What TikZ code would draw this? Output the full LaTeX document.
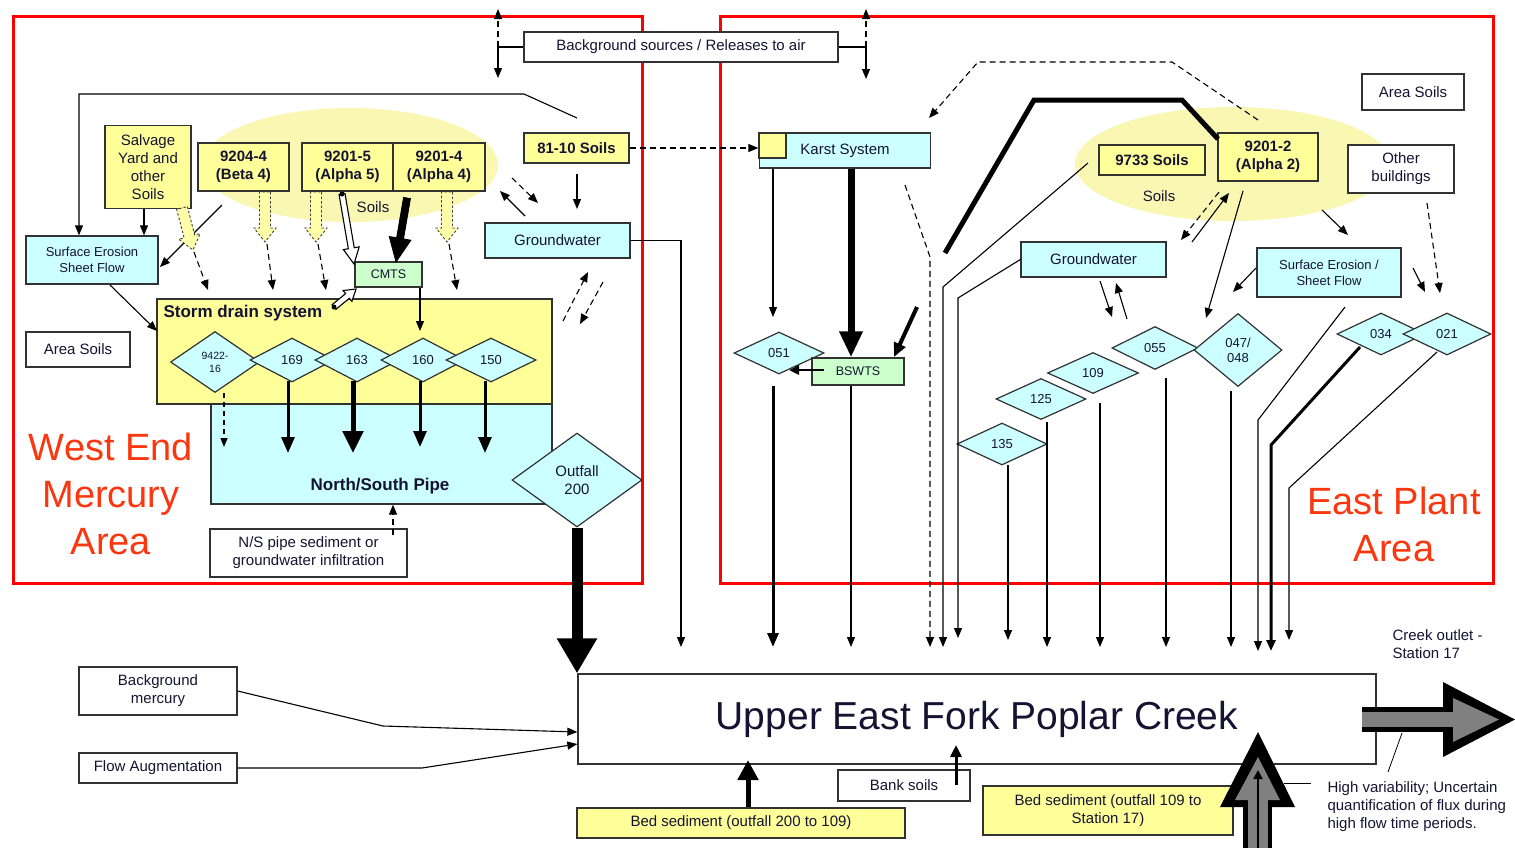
\documentclass[tikz,border=0pt]{standalone}
\usepackage{fontspec}
\setmainfont{Liberation Sans}
\usetikzlibrary{arrows.meta,shapes.geometric,calc}
\definecolor{cyb}{RGB}{204,255,255}
\definecolor{ylb}{RGB}{255,255,153}
\definecolor{grb}{RGB}{204,255,204}
\definecolor{ell}{RGB}{250,247,178}
\definecolor{hat}{RGB}{255,255,170}
\definecolor{txt}{RGB}{20,20,50}
\definecolor{redt}{RGB}{250,55,15}
\definecolor{bord}{RGB}{50,50,50}
\definecolor{arrg}{RGB}{128,128,128}
\newcommand\fsA{\fontsize{15}{18}\selectfont}
\newcommand\fsB{\fontsize{13}{16}\selectfont}
\newcommand\fsC{\fontsize{12.5}{14}\selectfont}
\newcommand\fsD{\fontsize{13}{15}\selectfont}
\newcommand\fsE{\fontsize{17}{20}\selectfont\bfseries}
\newcommand\fsF{\fontsize{10.5}{13}\selectfont}
\newcommand\fsBig{\fontsize{38}{47}\selectfont}
\newcommand\fsCreek{\fontsize{39}{47}\selectfont}
\newcommand\fatarrow[6]{%
  \coordinate (fahd) at ($(#3)!#6!(#2)$);
  \draw[#1] ($(#2)!#4!90:(#3)$) -- ($(fahd)!#4!90:(#3)$) -- ($(fahd)!#5!90:(#3)$) -- (#3) -- ($(fahd)!#5!-90:(#3)$) -- ($(fahd)!#4!-90:(#3)$) -- ($(#2)!#4!-90:(#3)$) -- cycle;}
\tikzset{
  sz/.style 2 args={minimum width=#1pt, minimum height=#2pt},
  box/.style={draw=bord, line width=1.3pt, inner sep=0pt, align=center, font=\fsA, text=txt},
  cbox/.style={box, fill=cyb},
  ybox/.style={box, fill=ylb},
  gbox/.style={box, fill=grb},
  wbox/.style={box, fill=white},
  dia/.style={diamond, draw=bord, line width=1.2pt, fill=cyb, inner sep=0pt, align=center, font=\fsD, text=txt},
  ln/.style={line width=1.1pt, draw=black},
  ar/.style={ln, -{Triangle[length=10pt,width=8pt]}},
  dar/.style={ar, dash pattern=on 6pt off 4pt},
  hatch/.style={draw=black!75, line width=0.9pt, dash pattern=on 2.5pt off 2pt, fill=hat},
  hollow/.style={draw=black, line width=1.1pt, fill=white},
  solidfat/.style={draw=black, line width=0.8pt, fill=black},
  bigtxt/.style={text=redt, font=\fsBig, align=center},
  plain/.style={font=\fsA, text=txt}
}
\begin{document}
\begin{tikzpicture}[x=1pt,y=-1pt]
\useasboundingbox (0,0) rectangle (1515,847);
\fill[white] (0,0) rectangle (1515,847);
% soil ellipses
\fill[ell] (350,165) ellipse [x radius=148pt, y radius=57pt];
\fill[ell] (1233,164) ellipse [x radius=158pt, y radius=57pt];
% red frames
\draw[red, line width=3pt] (13,16) rectangle (642,583);
\draw[red, line width=3pt] (720,16) rectangle (1493,583);

% ---------- West End nodes
\node[wbox, sz={314}{30}] (bgs) at (681,47) {Background sources / Releases to air};
\node[ybox, sz={86}{83}] (salv) at (148,167) {Salvage\\Yard and\\other\\Soils};
\node[ybox, sz={91}{48}, font=\fsA\bfseries] (beta4) at (243.5,167) {9204-4\\(Beta 4)};
\node[ybox, sz={91}{48}, font=\fsA\bfseries] (alpha5) at (347.5,167) {9201-5\\(Alpha 5)};
\node[ybox, sz={92}{48}, font=\fsA\bfseries] (alpha4) at (439,167) {9201-4\\(Alpha 4)};
\node[ybox, sz={105}{30}, font=\fsA\bfseries] (s8110) at (576.5,148) {81-10 Soils};
\node[cbox, sz={145}{35}] (gwl) at (557.5,240.5) {Groundwater};
\node[cbox, sz={132}{48}, font=\fsB] (sefl) at (92,260) {Surface Erosion\\Sheet Flow};
\node[gbox, sz={67}{25}, font=\fsC] (cmts) at (388.5,274.5) {CMTS};
\node[cbox, sz={341}{100}] (nspipe) at (381.5,454) {};
\node[ybox, sz={395}{105}] (storm) at (354.5,351.5) {};
\node[anchor=west, font=\fsE, text=txt] (stormlbl) at (160,313) {Storm drain system};
\node[font=\fsE, text=txt] (pipelbl) at (380,486) {North/South Pipe};
\node[wbox, sz={104}{35}] (areasl) at (78,349.5) {Area Soils};
\node[wbox, sz={197}{48}] (nssed) at (308.5,553) {N/S pipe sediment or\\groundwater infiltration};
\node[dia, sz={130}{94}, font=\fsA] (out200) at (577,480) {Outfall\\200};
\node[dia, sz={89}{61}, font=\fsF] (d9422) at (215,362) {9422-\\16};
\node[dia, sz={84}{44}] (d169) at (292,360) {169};
\node[dia, sz={84}{44}] (d163) at (357,360) {163};
\node[dia, sz={84}{44}] (d160) at (423,360) {160};
\node[dia, sz={90}{44}] (d150) at (491,360) {150};
\node[plain] (soilsl) at (373,207) {Soils};
\node[bigtxt] (westlbl) at (111,494) {West End\\Mercury\\Area};

% ---------- East Plant nodes
\node[cbox, sz={171}{35}] (karst) at (845,150.5) {Karst System};
\node[ybox, sz={27}{25}] (karstsq) at (772.5,145.5) {};
\node[ybox, sz={106}{30}, font=\fsA\bfseries] (s9733) at (1152,160) {9733 Soils};
\node[ybox, sz={100}{48}, font=\fsA\bfseries] (alpha2) at (1268,157) {9201-2\\(Alpha 2)};
\node[wbox, sz={102}{36}] (areasr) at (1413,92) {Area Soils};
\node[wbox, sz={106}{48}] (other) at (1401,169) {Other\\buildings};
\node[cbox, sz={145}{35}] (gwr) at (1093.5,259.5) {Groundwater};
\node[cbox, sz={144}{49}, font=\fsB] (sefr) at (1329,272.5) {Surface Erosion /\\Sheet Flow};
\node[dia, sz={90}{42}] (d051) at (779,353) {051};
\node[gbox, sz={92}{27}, font=\fsC] (bswts) at (858,371.5) {BSWTS};
\node[dia, sz={90}{42}] (d135) at (1002,444) {135};
\node[dia, sz={90}{41}] (d125) at (1041,399) {125};
\node[dia, sz={91}{41}] (d109) at (1093,373) {109};
\node[dia, sz={86}{43}] (d055) at (1155,348) {055};
\node[dia, sz={88}{73}] (d047) at (1238,350) {047/\\048};
\node[dia, sz={88}{42}] (d034) at (1381,334) {034};
\node[dia, sz={88}{42}] (d021) at (1447,334) {021};
\node[plain] (soilsr) at (1159,196) {Soils};
\node[bigtxt] (eastlbl) at (1394,524) {East Plant\\Area};

% ---------- bottom nodes
\node[wbox, sz={798}{90}, font=\fsCreek] (creek) at (977,719) {Upper East Fork Poplar Creek};
\node[wbox, sz={158}{48}] (bkm) at (158,691) {Background\\mercury};
\node[wbox, sz={158}{30}] (flow) at (158,768) {Flow Augmentation};
\node[ybox, sz={328}{30}] (bed1) at (741,823) {Bed sediment (outfall 200 to 109)};
\node[wbox, sz={132}{31}] (bank) at (904,785.5) {Bank soils};
\node[ybox, sz={250}{49}] (bed2) at (1108,810.5) {Bed sediment (outfall 109 to\\Station 17)};
\node[anchor=west, align=left, plain] (outlbl) at (1389,644) {Creek outlet -\\Station 17};
\node[anchor=west, align=left, plain] (hvlbl) at (1324,807) {High variability; Uncertain\\quantification of flux during\\high flow time periods.};

% ---------- connectors: top brackets
\coordinate (bjl) at (498,47);
\coordinate (bjr) at (866,47);
\draw[ln] (bgs.west) -- (bjl);
\draw[dar] (bjl) -- (498,9);
\draw[ar] (bjl) -- (498,78);
\draw[ln] (bgs.east) -- (bjr);
\draw[dar] (bjr) -- (866,9);
\draw[ar] (bjr) -- (866,79);

% ---------- West End connectors
\draw[ar] (577,118) -- (524,94) -- (79,94) -- (79,0 |- sefl.north);
\draw[ar] (144,0 |- salv.south) -- (144,0 |- sefl.north);
\draw[ar] (222,205) -- (160,267);
\draw[ar] (110,285) -- (157,331);
\fatarrow{hatch}{182,208}{193,250}{5.5pt}{11pt}{14pt}
\fatarrow{hatch}{265,192}{265,242}{5.5pt}{11pt}{14pt}
\fatarrow{hatch}{316,192}{316,242}{5.5pt}{11pt}{14pt}
\fatarrow{hatch}{447,192}{447,242}{5.5pt}{11pt}{14pt}
\draw[dar] (194,252) -- (208,290);
\draw[dar] (267,244) -- (273,290);
\draw[dar] (318,244) -- (326,290);
\draw[dar] (449,244) -- (457,290);
\fatarrow{hollow}{342,194}{354,264}{3pt}{8pt}{16pt}
\fill (342,194) circle (2.5pt);
\fatarrow{hollow}{334,307}{356,289}{3pt}{7pt}{11pt}
\fill (334,307) circle (2.5pt);
\fatarrow{solidfat}{407,198}{396,262}{3.5pt}{11pt}{24pt}
\draw[ar] (420,0 |- cmts.south) -- (420,331);
\draw[ar] (525,216) -- (500,191);
\draw[dar] (512,178) -- (538,203);
\draw[ar] (577,0 |- s8110.south) ++(0,10) -- (577,209);
\draw[dar] (563,321) -- (588,272);
\draw[dar] (603,282) -- (580,324);
\draw[ar] (gwl.east) -- (681,240.5) -- (681,647);
\draw[dar] (s8110.east) -- (s8110.east -| karstsq.west);
\draw[ln, dash pattern=on 5pt off 4pt, -{Triangle[length=9pt,width=7pt]}] (224,393) -- (224,447);
\draw[line width=3pt, -{Triangle[length=16pt,width=13pt]}] (288,381) -- (288,453);
\draw[line width=5pt, -{Triangle[length=22pt,width=20pt]}] (353,381) -- (353,453);
\draw[line width=3pt, -{Triangle[length=16pt,width=13pt]}] (420,381) -- (420,447);
\draw[line width=3pt, -{Triangle[length=16pt,width=13pt]}] (485,381) -- (485,453);
\draw[dar] (393,0 |- nssed.north) ++(0,7) -- (393,0 |- nspipe.south);
\draw[line width=11pt, -{Triangle[length=35pt,width=38pt]}] (out200.south) -- (577,0 |- creek.north);

% ---------- East Plant connectors
\draw[dar] (1258,120) -- (1172,62) -- (978,62) -- (929,118);
\draw[line width=5pt, line join=miter] (945,253) -- (1034,100) -- (1182,100) -- (1218,139);
\draw[ar] (773,0 |- karst.south) -- (773,317);
\draw[line width=7pt, -{Triangle[length=26pt,width=22pt]}] (851,0 |- karst.south) -- (851,0 |- bswts.north);
\draw[line width=4pt, -{Triangle[length=14pt,width=12pt]}] (917,307) -- (894,357);
\draw[line width=2.5pt, -{Triangle[length=10pt,width=9pt]}] (824,370) -- (789,370);
\draw[line width=3pt, -{Triangle[length=14pt,width=11pt]}] (773,386) -- (773,647);
\draw[ar] (851,0 |- bswts.south) -- (851,647);
\draw[dar] (905,185) -- (930,257) -- (930,647);
\draw[ar] (1088,163) -- (943,287) -- (943,647);
\draw[ar] (gwr.west) -- (958,298) -- (958,638);
\draw[ar] (1008,465) -- (1008,640);
\draw[ar] (1047,422) -- (1047,647);
\draw[ar] (1100,403) -- (1100,647);
\draw[ar] (1166,378) -- (1166,647);
\draw[ar] (1231,391) -- (1231,647);
\draw[ar] (1100,281) -- (1112,317);
\draw[ar] (1127,319) -- (1116,283);
\draw[dar] (1219,192) -- (1181,240);
\draw[ar] (1192,242) -- (1229,193);
\draw[ar] (1243,191) -- (1206,318);
\draw[ar] (1322,210) -- (1348,235);
\draw[ar] (1256,268) -- (1233,292);
\draw[dar] (1427,203) -- (1440,293);
\draw[ar] (1413,268) -- (1425,292);
\draw[ar] (1345,307) -- (1258,420) -- (1258,651);
\draw[line width=3pt, -{Triangle[length=11pt,width=9pt]}] (1360,347) -- (1271,445) -- (1271,651);
\draw[ar] (1437,352) -- (1289,488) -- (1289,640);

% ---------- bottom connectors
\draw[ar] (bkm.east) -- (383,726) -- (creek.west |- 0,732);
\draw[ar] (flow.east) -- (422,768) -- (creek.west |- 0,744);
\draw[line width=5pt, -{Triangle[length=20pt,width=20pt]}] (748,0 |- bed1.north) -- (748,760);
\draw[line width=3pt, -{Triangle[length=12pt,width=11pt]}] (956,785) -- (956,745);
% big up arrow (outer black, inner grey)
\fill[black] (1243,800) rectangle (1272,850);
\fill[black] (1220,807) -- (1258,732) -- (1295,807) -- cycle;
\fill[arrg] (1248,795) rectangle (1268,850);
\fill[arrg] (1235,800) -- (1258,757) -- (1280,800) -- cycle;
\draw[line width=2.5pt, -{Triangle[length=9pt,width=9pt]}] (1258,850) -- (1258,770);
% big right arrow (outer black, inner grey)
\fill[black] (1362,707) rectangle (1450,732);
\fill[black] (1443,682) -- (1515,719.5) -- (1443,757) -- cycle;
\fill[arrg] (1362,712) rectangle (1455,727);
\fill[arrg] (1453,698) -- (1499,719.5) -- (1453,742) -- cycle;
\draw[line width=0.8pt] (1402,733) -- (1388,772);
\draw[line width=0.8pt] (1284,783) -- (1311,783);
\end{tikzpicture}
\end{document}
